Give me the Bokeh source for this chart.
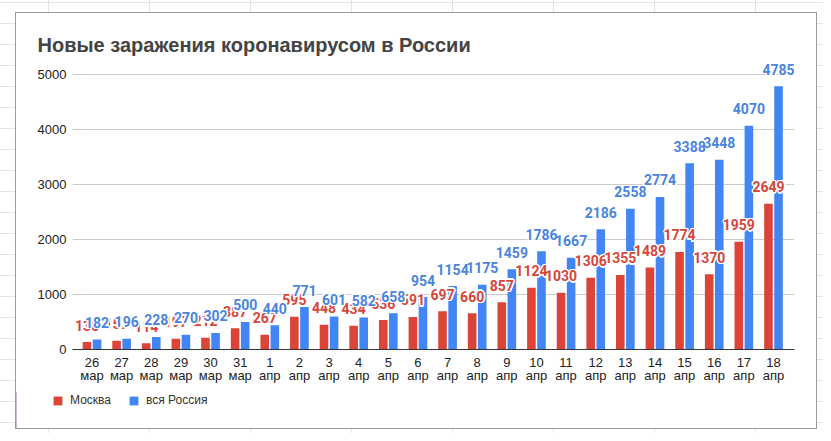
from bokeh.plotting import figure
from bokeh.models import ColumnDataSource, FixedTicker, Range1d, Legend, LegendItem
from bokeh.layouts import column
from bokeh.embed import file_html
from bokeh.resources import INLINE
from bokeh.core.properties import value

days = ["26", "27", "28", "29", "30", "31", "1", "2", "3", "4", "5", "6",
        "7", "8", "9", "10", "11", "12", "13", "14", "15", "16", "17", "18"]
months = ["мар"] * 6 + ["апр"] * 18
moscow = [136, 157, 114, 197, 212, 387, 267, 595, 448, 434, 536, 591,
          697, 660, 857, 1124, 1030, 1306, 1355, 1489, 1774, 1370, 1959, 2649]
russia = [182, 196, 228, 270, 302, 500, 440, 771, 601, 582, 658, 954,
          1154, 1175, 1459, 1786, 1667, 2186, 2558, 2774, 3388, 3448, 4070, 4785]
y_ticks = [0, 1000, 2000, 3000, 4000, 5000]
series_names = ["Москва", "вся Россия"]

RED = "#db4437"
BLUE = "#4285f4"
RED_T = "#d6453b"
BLUE_T = "#4a84dc"
off = 0.17
bw = 0.29

idx = list(range(len(days)))
src_m = ColumnDataSource(dict(x=[i - off for i in idx], y=moscow, t=[str(v) for v in moscow]))
src_r = ColumnDataSource(dict(x=[i + off for i in idx], y=russia, t=[str(v) for v in russia]))

p = figure(width=800, height=378, x_range=Range1d(-0.658, 23.709), y_range=Range1d(0, 5309),
           output_backend="svg", toolbar_location=None,
           min_border_left=56, min_border_right=22, min_border_top=44, min_border_bottom=42,
           title="Новые заражения коронавирусом в России")
p.outline_line_color = None
p.background_fill_color = "white"
p.border_fill_color = "white"

p.title.align = "left"
p.title.offset = -35
p.title.text_font = "Liberation Sans"
p.title.text_font_size = "20px"
p.title.text_font_style = "bold"
p.title.text_color = "#444444"
p.title.standoff = 4

r_m = p.vbar(x="x", top="y", width=bw, source=src_m, fill_color=RED, line_color=None)
r_r = p.vbar(x="x", top="y", width=bw, source=src_r, fill_color=BLUE, line_color=None)

halo = [(-1.5, 0), (1.5, 0), (0, -1.5), (0, 1.5), (-1.1, -1.1), (1.1, -1.1), (-1.1, 1.1), (1.1, 1.1)]
for src, col in ((src_m, RED_T), (src_r, BLUE_T)):
    for dx, dy in halo:
        p.text(x="x", y="y", text="t", source=src, text_align="center", text_baseline="alphabetic",
               x_offset=dx, y_offset=-17 + dy, text_font=value("Roboto"), text_font_style="bold",
               text_font_size="14px", text_color="white")
    p.text(x="x", y="y", text="t", source=src, text_align="center", text_baseline="alphabetic",
           y_offset=-17, text_font=value("Roboto"), text_font_style="bold", text_font_size="14px",
           text_color=col)

p.xgrid.visible = False
p.ygrid.ticker = FixedTicker(ticks=y_ticks)
p.ygrid.grid_line_color = "#cccccc"

p.yaxis.ticker = FixedTicker(ticks=y_ticks)
p.yaxis.axis_line_color = None
p.yaxis.major_tick_line_color = None
p.yaxis.minor_tick_line_color = None
p.yaxis.major_tick_out = 0
p.yaxis.major_tick_in = 0
p.yaxis.major_label_standoff = 6
p.yaxis.major_label_text_font = "Liberation Sans"
p.yaxis.major_label_text_font_size = "13px"
p.yaxis.major_label_text_color = "#222222"

p.xaxis.ticker = FixedTicker(ticks=idx)
p.xaxis.major_label_overrides = {i: f"{d}\n{m}" for i, d, m in zip(idx, days, months)}
p.xaxis.axis_line_color = "#333333"
p.xaxis.major_tick_line_color = None
p.xaxis.minor_tick_line_color = None
p.xaxis.major_tick_out = 0
p.xaxis.major_tick_in = 0
p.xaxis.major_label_standoff = 5
p.xaxis.major_label_text_font = "Liberation Sans"
p.xaxis.major_label_text_font_size = "13px"
p.xaxis.major_label_text_color = "#222222"
p.xaxis.major_label_text_line_height = 0.9

# legend strip (separate small figure inside the same white box)
pl = figure(width=800, height=37, x_range=Range1d(0, 1), y_range=Range1d(0, 1),
            output_backend="svg", toolbar_location=None, x_axis_type=None, y_axis_type=None,
            min_border=0)
pl.frame_align = False
pl.outline_line_color = None
pl.background_fill_color = "white"
pl.border_fill_color = "white"
pl.xgrid.visible = False
pl.ygrid.visible = False
# swatch glyphs kept outside the visible range; only their legend swatches are shown
lr_m = pl.vbar(x=[-5], top=[1], width=0.1, fill_color=RED, line_color=None)
lr_r = pl.vbar(x=[-5], top=[1], width=0.1, fill_color=BLUE, line_color=None)
legend = Legend(items=[LegendItem(label=series_names[0], renderers=[lr_m]),
                       LegendItem(label=series_names[1], renderers=[lr_r])],
                location=(36, 21), orientation="horizontal",
                glyph_width=11, glyph_height=11, label_height=11, label_standoff=7, spacing=17,
                padding=0, margin=0, border_line_color=None, background_fill_alpha=0,
                label_text_font="Liberation Sans", label_text_font_size="12px",
                label_text_color="#333333")
pl.add_layout(legend)

box = column(p, pl, spacing=0, margin=(13, 0, 0, 16),
             styles={"outline": "1px solid #9a9a9a", "background-color": "white"})

layout = column(box, width=823, height=433, styles={
    "background-color": "white",
    "background-image": "linear-gradient(to right, #e3e3e3 1px, transparent 1px), "
                        "linear-gradient(to bottom, #e3e3e3 1px, transparent 1px)",
    "background-size": "101px 21px",
    "background-position": "48px 2px",
})

open("out.html", "w").write(file_html(layout, INLINE))
